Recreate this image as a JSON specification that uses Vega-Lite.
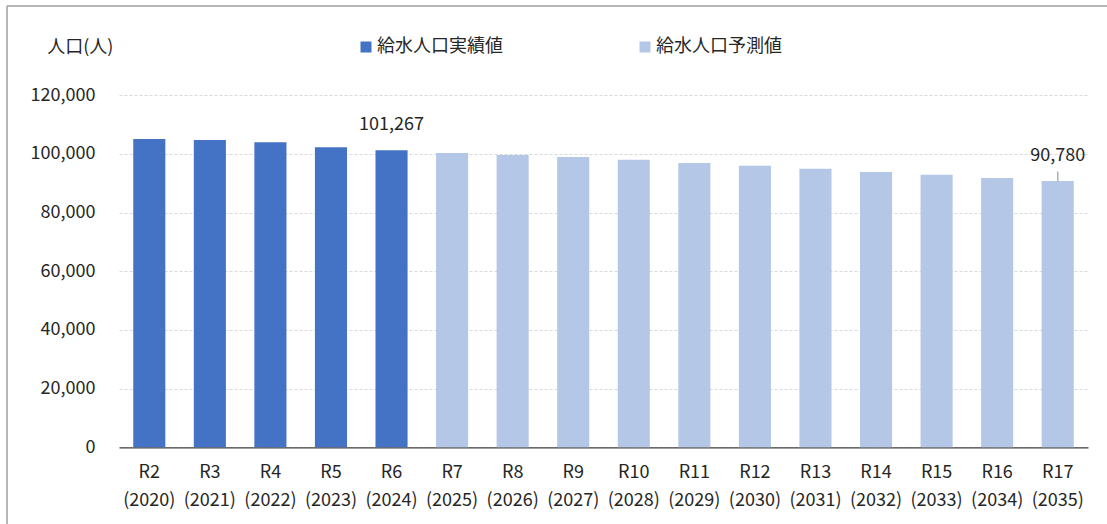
{
  "$schema": "https://vega.github.io/schema/vega-lite/v6.json",
  "width": 1100,
  "height": 518,
  "autosize": {"type": "none"},
  "padding": {"left": 7, "top": 6, "right": 0, "bottom": 0},
  "background": "white",
  "config": {
    "view": {"stroke": "#A0A0A0", "strokeWidth": 1.5, "strokeDash": [1100, 1618, 518, 0]},
    "font": "Noto Sans CJK JP",
    "axis": {"labelFont": "Noto Sans CJK JP", "titleFont": "Noto Sans CJK JP"},
    "legend": {"labelFont": "Noto Sans CJK JP"},
    "text": {"font": "Noto Sans CJK JP"}
  },
  "data": {
    "values": [
      {"cat": "R2 (2020)", "value": 105100, "type": "給水人口実績値"},
      {"cat": "R3 (2021)", "value": 104800, "type": "給水人口実績値"},
      {"cat": "R4 (2022)", "value": 104000, "type": "給水人口実績値"},
      {"cat": "R5 (2023)", "value": 102300, "type": "給水人口実績値"},
      {"cat": "R6 (2024)", "value": 101267, "type": "給水人口実績値", "label": "101,267"},
      {"cat": "R7 (2025)", "value": 100300, "type": "給水人口予測値"},
      {"cat": "R8 (2026)", "value": 99650, "type": "給水人口予測値"},
      {"cat": "R9 (2027)", "value": 98970, "type": "給水人口予測値"},
      {"cat": "R10 (2028)", "value": 98050, "type": "給水人口予測値"},
      {"cat": "R11 (2029)", "value": 96920, "type": "給水人口予測値"},
      {"cat": "R12 (2030)", "value": 96000, "type": "給水人口予測値"},
      {"cat": "R13 (2031)", "value": 94980, "type": "給水人口予測値"},
      {"cat": "R14 (2032)", "value": 93850, "type": "給水人口予測値"},
      {"cat": "R15 (2033)", "value": 92930, "type": "給水人口予測値"},
      {"cat": "R16 (2034)", "value": 91810, "type": "給水人口予測値"},
      {"cat": "R17 (2035)", "value": 90780, "type": "給水人口予測値", "label": "90,780"}
    ]
  },
  "encoding": {
    "x": {
      "field": "cat",
      "type": "nominal",
      "sort": null,
      "scale": {"range": [112, 1081], "paddingInner": 0.47, "paddingOuter": 0.235},
      "axis": {
        "title": null,
        "labelExpr": "split(datum.value, ' ')",
        "labelAngle": 0,
        "labelFontSize": 18,
        "labelColor": "#262626",
        "labelPadding": 16.5,
        "labelLineHeight": 28,
        "ticks": false,
        "tickSize": 0,
        "domainColor": "#404040",
        "domainWidth": 1.3,
        "offset": -76.7,
        "grid": false
      }
    },
    "y": {
      "field": "value",
      "type": "quantitative",
      "scale": {"domain": [0, 120000], "range": [441.3, 89.3], "nice": false},
      "axis": {
        "title": "人口(人)",
        "values": [0, 20000, 40000, 60000, 80000, 100000, 120000],
        "format": ",d",
        "offset": -112,
        "domain": false,
        "ticks": false,
        "tickSize": 0,
        "labelPadding": 24,
        "labelFontSize": 18,
        "labelColor": "#262626",
        "gridColor": "#D9D9D9",
        "gridDash": [3, 2],
        "gridWidth": 1,
        "titleAngle": 0,
        "titleAlign": "left",
        "titleBaseline": "middle",
        "titleX": -72.3,
        "titleY": 41.7,
        "titleFontSize": 18,
        "titleFontWeight": "normal",
        "titleColor": "#262626"
      }
    }
  },
  "layer": [
    {
      "mark": {"type": "bar"},
      "encoding": {
        "color": {
          "field": "type",
          "type": "nominal",
          "scale": {"domain": ["給水人口実績値", "給水人口予測値"], "range": ["#4472C4", "#B4C7E7"]},
          "legend": {
            "title": null,
            "orient": "none",
            "direction": "horizontal",
            "legendX": 350,
            "legendY": 32,
            "symbolType": "square",
            "symbolSize": 121,
            "symbolStrokeWidth": 0,
            "labelFontSize": 18,
            "labelColor": "#262626",
            "labelOffset": 2,
            "columnPadding": 133,
            "padding": 0
          }
        }
      }
    },
    {
      "transform": [{"filter": "datum.label != null"}],
      "mark": {"type": "text", "dy": -20.5, "baseline": "alphabetic", "fontSize": 18, "color": "#262626"},
      "encoding": {"text": {"field": "label"}}
    },
    {
      "transform": [{"filter": "datum.cat == 'R17 (2035)'"}],
      "mark": {"type": "tick", "orient": "vertical", "size": 9.5, "thickness": 1.5, "color": "#8C8C8C", "yOffset": -4.7},
      "encoding": {}
    }
  ]
}
